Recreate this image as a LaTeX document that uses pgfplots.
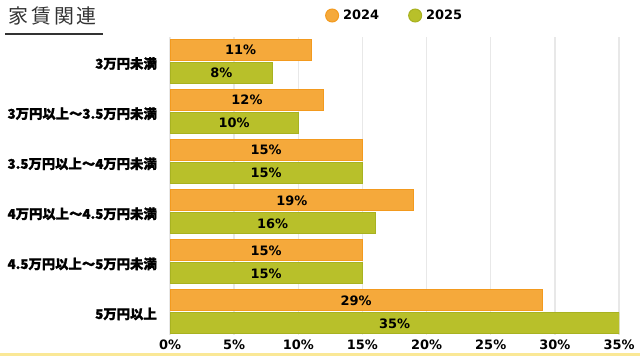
\documentclass[border=0pt]{standalone}
\usepackage{fontspec}
\usepackage{pgfplots}
\pgfplotsset{compat=1.18}
\newfontfamily\cjk{Noto Sans CJK JP}
\newfontfamily\cjkb{Noto Sans CJK JP}[BoldFeatures={FakeBold=1.2}]
\newfontfamily\num{DejaVu Sans}
\definecolor{orF}{HTML}{F5A93B}
\definecolor{orB}{HTML}{F39A1E}
\definecolor{grF}{HTML}{B8C02A}
\definecolor{grB}{HTML}{A8B220}
\definecolor{gridc}{HTML}{E8E8E8}
\definecolor{stripe}{HTML}{FAE896}
\definecolor{ttl}{HTML}{333333}
\begin{document}
\begin{tikzpicture}[x=1bp,y=1bp]
\useasboundingbox (0,0) rectangle (640,356);
\fill[white] (0,0) rectangle (640,356);
\fill[stripe] (0,0) rectangle (640,3);
\node[anchor=base west, inner sep=0pt, font=\cjk\fontsize{20}{20}\selectfont, text=ttl] at (8,332.5) {家\hspace{3bp}賃\hspace{3bp}関\hspace{3bp}連};
\draw[line width=2bp, ttl] (5,321.7) -- (103,321.7);
\begin{axis}[
  at={(170bp,21bp)}, anchor=south west, scale only axis,
  width=449bp, height=298bp,
  /pgf/number format/assume math mode=true,
  xbar, bar width=21bp,
  xmin=0, xmax=35, ymin=-0.49, ymax=5.46, y dir=reverse,
  axis x line*=bottom, axis y line*=left,
  axis line style={draw=none},
  major tick length=0pt,
  xtick={0,5,...,35},
  xticklabel={\pgfmathprintnumber{\tick}\%},
  xticklabel style={font=\num\bfseries\fontsize{13}{13}\selectfont, anchor=center, yshift=-10bp, inner sep=0pt},
  ytick={0,1,2,3,4,5},
  yticklabels={3万円未満, 3万円以上～3.5万円未満, 3.5万円以上～4万円未満, 4万円以上～4.5万円未満, 4.5万円以上～5万円未満, 5万円以上},
  yticklabel style={font=\cjkb\bfseries\fontsize{13.4}{13.4}\selectfont, anchor=east, inner sep=0pt, xshift=-13bp, yshift=-2bp},
  xmajorgrids, grid style={gridc, line width=1.5bp},
  point meta=x,
  nodes near coords={\pgfmathprintnumber{\pgfplotspointmeta}\%},
  visualization depends on={rawx \as \rawx},
  every node near coord/.append style={font=\num\bfseries\fontsize{13}{13}\selectfont, text=black, anchor=center, inner sep=0pt, shift={(axis direction cs:-\rawx/2,0)}},
  legend columns=2,
  legend image code/.code={\fill[#1] (6.5bp,0bp) circle (6.5bp);},
  legend style={at={(0.345,1)}, anchor=west, yshift=21.5bp, draw=none, fill=none, inner sep=0pt,
    font=\num\bfseries\fontsize{13}{13}\selectfont,
    /tikz/every even column/.append style={column sep=25bp},
    nodes={inner xsep=4bp, inner ysep=0pt}},
]
\addplot[draw=orB, fill=orF, line width=1bp, bar shift=11.5bp] coordinates {(11,0) (12,1) (15,2) (19,3) (15,4) (29,5)};
\addplot[draw=grB, fill=grF, line width=1bp, bar shift=-11.5bp] coordinates {(8,0) (10,1) (15,2) (16,3) (15,4) (35,5)};
\legend{2024,2025}
\end{axis}
\end{tikzpicture}
\end{document}
